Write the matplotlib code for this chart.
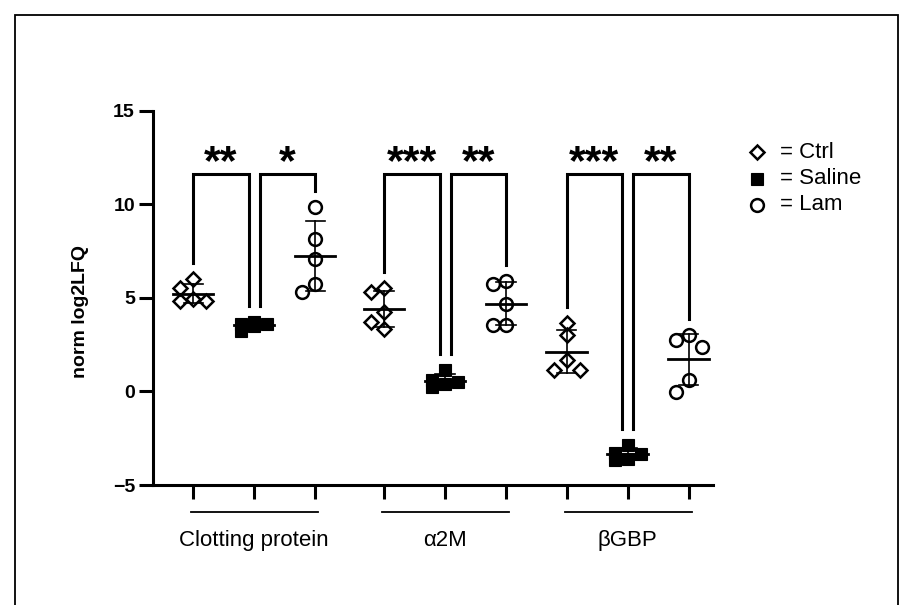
import numpy as np
import matplotlib
matplotlib.use('Agg')
import matplotlib.pyplot as plt
from matplotlib.patches import Rectangle

plt.rcParams['font.family'] = ['Liberation Sans', 'DejaVu Sans']

# data (norm log2LFQ, n=5 per condition)
proteins = ['Clotting protein', 'α2M', 'βGBP']
conditions = ['Ctrl', 'Saline', 'Lam']

clotting_ctrl = [6.0, 5.51, 4.85, 4.82, 4.91]
clotting_saline = [3.6, 3.73, 3.5, 3.6, 3.24]
clotting_lam = [9.87, 8.14, 7.07, 5.3, 5.74]
a2m_ctrl = [5.3, 5.53, 4.23, 3.34, 3.7]
a2m_saline = [1.12, 0.23, 0.5, 0.41, 0.6]
a2m_lam = [5.92, 5.74, 4.68, 3.52, 3.52]
bgbp_ctrl = [3.64, 2.99, 1.65, 1.12, 1.16]
bgbp_saline = [-2.88, -3.68, -3.3, -3.35, -3.6]
bgbp_lam = [2.72, 2.99, 2.36, 0.59, -0.04]

# significance: (Ctrl vs Saline, Saline vs Lam)
stars = [('**', '*'), ('***', '**'), ('***', '**')]

groups = [
    [clotting_ctrl, clotting_saline, clotting_lam],
    [a2m_ctrl, a2m_saline, a2m_lam],
    [bgbp_ctrl, bgbp_saline, bgbp_lam],
]

group_start = [0, 3.13, 6.12]
styles = {
    'Ctrl': dict(marker='D', ms=6.8, mfc='none', mec='black', mew=1.8),
    'Saline': dict(marker='s', ms=9.3, mfc='black', mec='black', mew=0.8),
    'Lam': dict(marker='o', ms=9.2, mfc='none', mec='black', mew=1.8),
}

fig = plt.figure(figsize=(9.13, 6.05), dpi=100)
ax = fig.add_axes([153 / 913, 1 - 485 / 605, 560 / 913, 374.5 / 605])
ax.set_xlim(-0.66, 8.52)
ax.set_ylim(-5, 15)

ppx = 560 / 9.18      # px per x unit
ppy = 374.5 / 20      # px per y unit


def swarm(vals, step=13, thr=12):
    # simple scatter layout: centre, left, right; overlap allowed when crowded
    order = np.argsort(vals)[::-1]
    placed = []
    offs = np.zeros(len(vals))
    for i in order:
        best, best_d = 0, -1
        for k in [0, -1, 1]:
            ox = k * step
            d = min([np.hypot(ox - px, (vals[i] - py) * ppy) for px, py in placed] or [99])
            if d >= thr:
                best = ox
                break
            if d > best_d:
                best, best_d = ox, d
        offs[i] = best / ppx
        placed.append((best, vals[i]))
    return offs


tick_pos = []
for g, data in enumerate(groups):
    xs = [group_start[g] + j for j in range(3)]
    tick_pos += xs
    for j, vals in enumerate(data):
        vals = np.array(vals)
        ax.plot(xs[j] + swarm(vals), vals, ls='none', zorder=3,
                **styles[conditions[j]])
        m = vals.mean()
        sd = vals.std(ddof=1)
        ax.plot([xs[j], xs[j]], [m - sd, m + sd], color='black', lw=1.2, zorder=4)
        for y in (m - sd, m + sd):
            ax.plot([xs[j] - 0.16, xs[j] + 0.16], [y, y], color='black', lw=1.2, zorder=4)
        ax.plot([xs[j] - 0.33, xs[j] + 0.33], [m, m], color='black', lw=2, zorder=4)

    # significance brackets
    tops = [max(v) + 0.85 for v in data]
    gap = 0.09
    for b, (i, k) in enumerate([(0, 1), (1, 2)]):
        x0 = xs[i] + (gap if i == 1 else 0)
        x1 = xs[k] - (gap if k == 1 else 0)
        ax.plot([x0, x0, x1, x1], [tops[i], 11.6, 11.6, tops[k]], color='black',
                lw=2.2, solid_joinstyle='miter', zorder=2)
        ax.text((x0 + x1) / 2, 11.6, stars[g][b], ha='center', va='baseline',
                fontsize=31, fontweight='bold')

    # group label + underline
    ax.plot([xs[0] - 0.03, xs[2] + 0.05], [-6.44, -6.44], color='black', lw=1.3,
            clip_on=False)
    ax.text(xs[1], -7.94, proteins[g], ha='center', va='center', fontsize=16)

ax.set_xticks(tick_pos)
ax.set_xticklabels([])
ax.set_yticks([-5, 0, 5, 10, 15])
ax.set_yticklabels(['−5', '0', '5', '10', '15'], fontweight='bold')
ax.tick_params(axis='both', length=10, width=2.2, labelsize=14, pad=3)
for s in ['top', 'right']:
    ax.spines[s].set_visible(False)
for s in ['left', 'bottom']:
    ax.spines[s].set_linewidth(2.2)
ax.set_ylabel('norm log2LFQ', fontsize=14, fontweight='bold')
ax.yaxis.set_label_coords(-0.114, 0.463)

# legend
leg_y = [1 - 152 / 605, 1 - 179 / 605, 1 - 205 / 605]
for c, y in zip(conditions, leg_y):
    fig.add_artist(plt.Line2D([757 / 913], [y], ls='none', transform=fig.transFigure,
                              **styles[c]))
    fig.text(780 / 913, y, '= ' + c, fontsize=16, va='center')

# outer frame
fig.add_artist(Rectangle((15 / 913, -0.01), 883 / 913, 1.01 - 15 / 605,
                         transform=fig.transFigure, fill=False, lw=1.3, ec='black'))

fig.savefig('out.png', dpi=100)
